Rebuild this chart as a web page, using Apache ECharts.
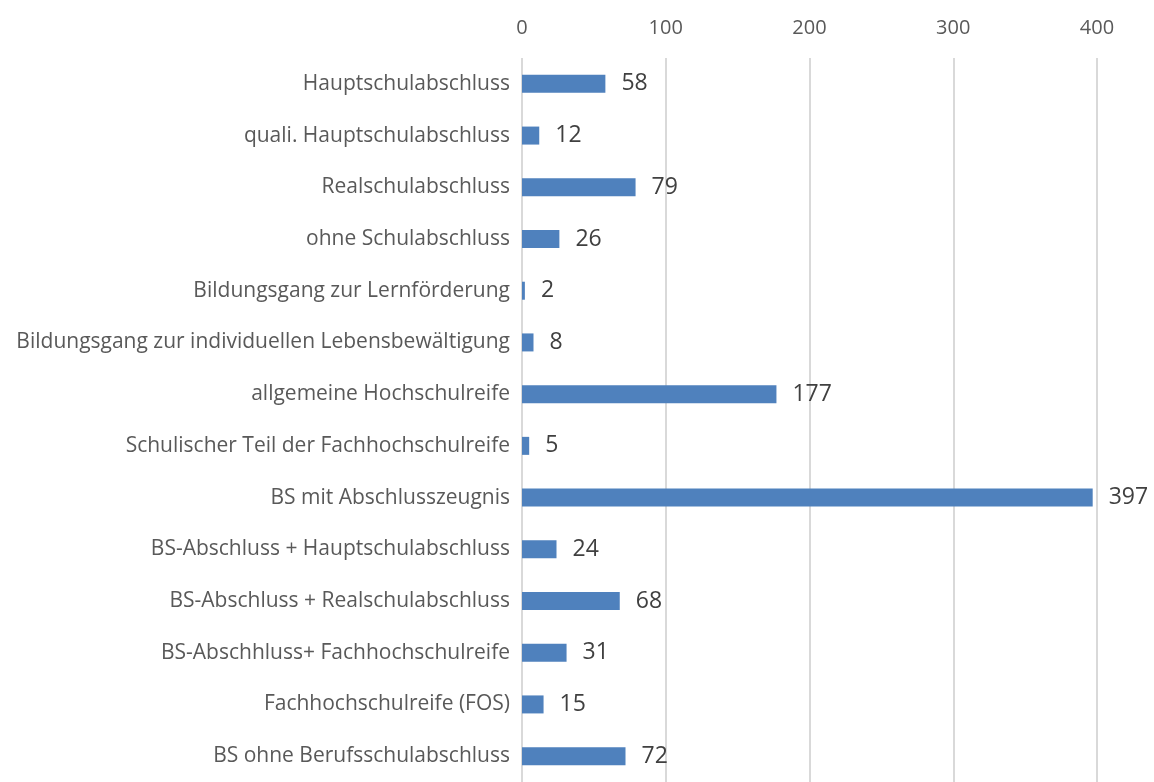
<!DOCTYPE html>
<html>
<head>
<meta charset="utf-8">
<script src="https://cdn.jsdelivr.net/npm/echarts@6/dist/echarts.min.js"></script>
<style>
  html, body { margin: 0; padding: 0; background: #fff; }
  #main { width: 1154px; height: 782px; }
</style>
</head>
<body>
<div id="main"></div>
<script>
// Kategorien (von oben nach unten)
const categories = [
  'Hauptschulabschluss',
  'quali. Hauptschulabschluss',
  'Realschulabschluss',
  'ohne Schulabschluss',
  'Bildungsgang zur Lernförderung',
  'Bildungsgang zur individuellen Lebensbewältigung',
  'allgemeine Hochschulreife',
  'Schulischer Teil der Fachhochschulreife',
  'BS mit Abschlusszeugnis',
  'BS-Abschluss + Hauptschulabschluss',
  'BS-Abschluss + Realschulabschluss',
  'BS-Abschhluss+ Fachhochschulreife',
  'Fachhochschulreife (FOS)',
  'BS ohne Berufsschulabschluss'
];
const values = [58, 12, 79, 26, 2, 8, 177, 5, 397, 24, 68, 31, 15, 72];
const xTicks = [0, 100, 200, 300, 400];

const chart = echarts.init(document.getElementById('main'));

const option = {
  animation: false,
  grid: {
    left: 522,
    right: 57,
    top: 58,
    height: 729,
    containLabel: false
  },
  xAxis: {
    type: 'value',
    position: 'top',
    min: xTicks[0],
    max: xTicks[xTicks.length - 1],
    interval: 100,
    axisLine: {show: false},
    axisTick: {show: false},
    axisLabel: {
      margin: 20,
      color: '#595959',
      fontSize: 20,
      fontFamily: 'Open Sans'
    },
    splitLine: {
      lineStyle: {color: '#d9d9d9', width: 2}
    }
  },
  yAxis: {
    type: 'category',
    inverse: true,
    data: categories,
    axisLine: {show: false},
    axisTick: {show: false},
    axisLabel: {
      margin: 12,
      color: '#595959',
      fontSize: 21,
      fontFamily: 'Open Sans'
    }
  },
  series: [
    {
      type: 'bar',
      data: values,
      barWidth: 18,
      itemStyle: {color: '#4f81bd'},
      label: {
        show: true,
        position: 'right',
        distance: 16,
        color: '#404040',
        fontSize: 23,
        fontFamily: 'Open Sans'
      }
    }
  ]
};

chart.setOption(option);
</script>
</body>
</html>
